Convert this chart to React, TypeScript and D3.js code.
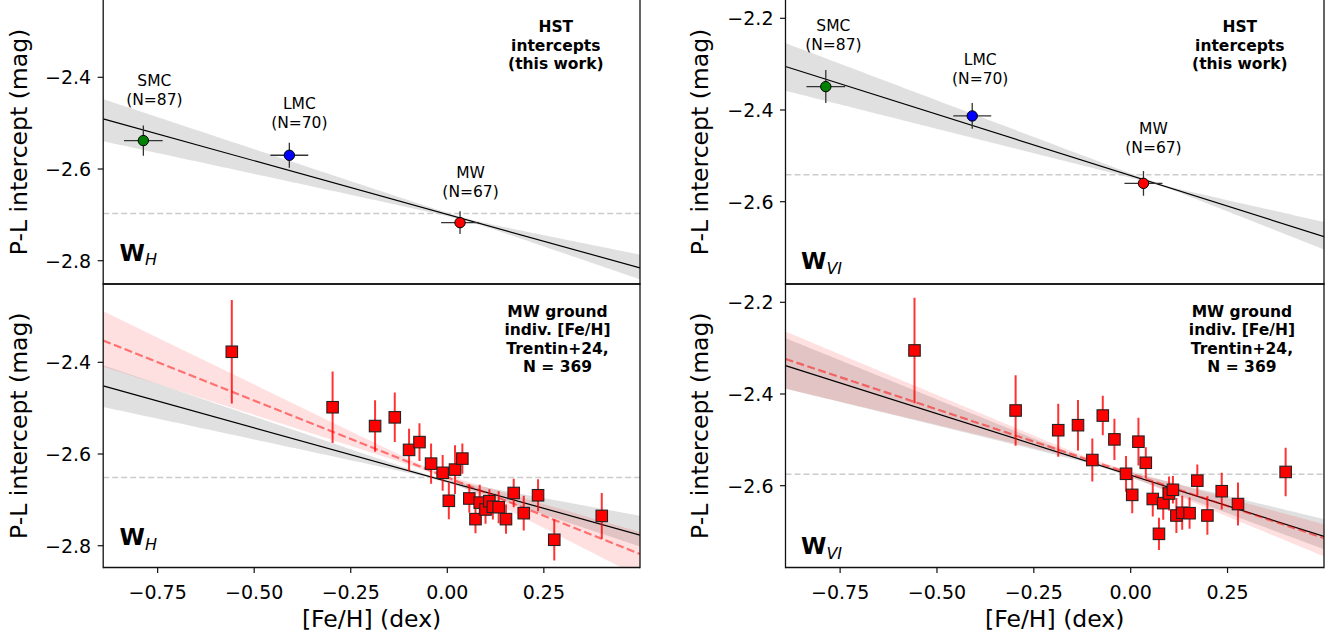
import React from "react";
import * as d3 from "d3";

// ---------- HST intercepts per galaxy ----------
const GALAXIES = ["SMC", "LMC", "MW"];
const GALAXY_N = [87, 70, 67];
const GALAXY_COLORS = ["#008000", "#0000ff", "#ff0000"];
const GALAXY_FEH = [-0.787, -0.409, 0.033];
const GALAXY_FEH_ERR = [0.05, 0.049, 0.049];
const GALAXY_WH = [-2.538, -2.57, -2.717];
const GALAXY_WH_ERR = [0.033, 0.027, 0.025];
const GALAXY_WVI = [-2.349, -2.413, -2.56];
const GALAXY_WVI_ERR = [0.036, 0.028, 0.027];

// ---------- MW ground-based intercepts, binned in individual [Fe/H] ----------
const STAR_FEH = [
  -0.558, -0.297, -0.187, -0.136, -0.099, -0.072, -0.042, -0.012, 0.004, 0.02, 0.039, 0.057,
  0.073, 0.084, 0.099, 0.109, 0.118, 0.133, 0.152, 0.172, 0.198, 0.235, 0.277, 0.4,
];
const STAR_WH = [
  -2.377, -2.498, -2.539, -2.52, -2.591, -2.574, -2.621, -2.641, -2.702, -2.634, -2.61, -2.697,
  -2.742, -2.706, -2.721, -2.703, -2.715, -2.716, -2.742, -2.685, -2.729, -2.69, -2.787, -2.735,
];
const STAR_WH_ERR = [
  0.113, 0.078, 0.056, 0.054, 0.046, 0.041, 0.044, 0.039, 0.04, 0.053, 0.033, 0.031,
  0.031, 0.039, 0.031, 0.026, 0.028, 0.035, 0.032, 0.031, 0.038, 0.035, 0.045, 0.05,
];
const STAR_WVI = [
  -2.305, -2.436, -2.479, -2.468, -2.544, -2.447, -2.499, -2.574, -2.62, -2.504, -2.55, -2.629,
  -2.705, -2.638, -2.617, -2.609, -2.665, -2.659, -2.66, -2.589, -2.665, -2.612, -2.64, -2.57,
];
const STAR_WVI_ERR = [
  0.115, 0.077, 0.058, 0.055, 0.047, 0.043, 0.045, 0.039, 0.04, 0.052, 0.034, 0.038,
  0.035, 0.036, 0.037, 0.03, 0.038, 0.037, 0.034, 0.035, 0.042, 0.04, 0.047, 0.053,
];

// ---------- fitted relations: zero point at [Fe/H]=0 and slope (mag/dex) ----------
const FIT_HST_WH = { zp: -2.699, slope: -0.234 };
const FIT_HST_WVI = { zp: -2.543, slope: -0.267 };
const FIT_GROUND_HST_WH = { zp: -2.66, slope: -0.234 };
const FIT_GROUND_HST_WVI = { zp: -2.577, slope: -0.268 };
const FIT_GROUND_WH = { zp: -2.651, slope: -0.335 };
const FIT_GROUND_WVI = { zp: -2.574, slope: -0.281 };

// confidence bands: narrowest half-width at the pivot, half-widths [above, below] at the axis edges
const BAND_HST_WH = { pivot: 0.05, min: 0.003, left: [0.043, 0.049], right: [0.029, 0.025] };
const BAND_HST_WVI = { pivot: 0.08, min: 0.002, left: [0.051, 0.053], right: [0.032, 0.028] };
const BAND_GROUND_HST_WH = { pivot: -0.03, min: 0.003, left: [0.045, 0.046], right: [0.042, 0.025] };
const BAND_GROUND_WH = { pivot: -0.03, min: 0.004, left: [0.064, 0.057], right: [0.048, 0.05] };
const BAND_GROUND_HST_WVI = { pivot: -0.08, min: 0.003, left: [0.06, 0.05], right: [0.038, 0.028] };
const BAND_GROUND_WVI = { pivot: -0.08, min: 0.004, left: [0.06, 0.065], right: [0.03, 0.04] };

// solar-metallicity reference intercepts
const REF_HST_WH = -2.697;
const REF_HST_WVI = -2.5415;
const REF_GROUND_WH = -2.651;
const REF_GROUND_WVI = -2.575;

const X_TICKS = [-0.75, -0.5, -0.25, 0, 0.25];
const Y_TICKS_H = [-2.4, -2.6, -2.8];
const Y_TICKS_VI = [-2.2, -2.4, -2.6];
const X_LIM = [-0.891, 0.499];

const FONT = "DejaVu Sans, Verdana, sans-serif";
const fmtMinus = (s: string) => s.replace("-", "\u2212");

type Band = { pivot: number; min: number; left: number[]; right: number[] };
type Fit = { zp: number; slope: number };

function halfWidth(x: number, band: Band, side: number) {
  const onLeft = x < band.pivot;
  const edge = onLeft ? X_LIM[0] : X_LIM[1];
  const w = onLeft ? band.left[side] : band.right[side];
  const t = (x - band.pivot) / (edge - band.pivot);
  return Math.sqrt(band.min * band.min + (w * w - band.min * band.min) * t * t);
}

const fitY = (f: Fit, x: number) => f.zp + f.slope * x;
const SAMPLES = d3.range(0, 161).map((i) => X_LIM[0] + (i * (X_LIM[1] - X_LIM[0])) / 160);

type PanelProps = {
  id: string;
  left: number;
  right: number;
  top: number;
  bottom: number;
  ylim: number[];
  yTicks: number[];
  showTopSpine: boolean;
  showXAxis: boolean;
  children: (x: d3.ScaleLinear<number, number>, y: d3.ScaleLinear<number, number>) => React.ReactNode;
  overlay: (x: d3.ScaleLinear<number, number>, y: d3.ScaleLinear<number, number>) => React.ReactNode;
};

function Panel(p: PanelProps) {
  const x = d3.scaleLinear().domain(X_LIM).range([p.left, p.right]);
  const y = d3.scaleLinear().domain(p.ylim).range([p.bottom, p.top]);
  const clipId = `clip-${p.id}`;
  return (
    <g>
      <defs>
        <clipPath id={clipId}>
          <rect x={p.left} y={p.top} width={p.right - p.left} height={p.bottom - p.top} />
        </clipPath>
      </defs>
      <g clipPath={`url(#${clipId})`}>{p.children(x, y)}</g>
      {p.overlay(x, y)}
      {/* spines */}
      <g stroke="#111" strokeWidth={1.3} fill="none">
        <line x1={p.left} x2={p.left} y1={p.top - (p.showTopSpine ? 0.65 : 2)} y2={p.bottom + 0.65} />
        <line x1={p.right} x2={p.right} y1={p.top - (p.showTopSpine ? 0.65 : 2)} y2={p.bottom + 0.65} />
        <line x1={p.left} x2={p.right} y1={p.bottom} y2={p.bottom} />
        {p.showTopSpine && <line x1={p.left} x2={p.right} y1={p.top} y2={p.top} />}
      </g>
      {/* y ticks */}
      {p.yTicks.map((t) => (
        <g key={t}>
          <line x1={p.left - 5.5} x2={p.left} y1={y(t)} y2={y(t)} stroke="#111" strokeWidth={1.2} />
          <text
            x={p.left - 12}
            y={y(t)}
            dy="0.36em"
            textAnchor="end"
            fontSize={19}
            fontFamily={FONT}
            fill="#000"
          >
            {fmtMinus(t.toFixed(1))}
          </text>
        </g>
      ))}
      {p.showXAxis &&
        X_TICKS.map((t) => (
          <g key={t}>
            <line x1={x(t)} x2={x(t)} y1={p.bottom} y2={p.bottom + 5.5} stroke="#111" strokeWidth={1.2} />
            <text x={x(t)} y={598.5} textAnchor="middle" fontSize={19} fontFamily={FONT} fill="#000">
              {fmtMinus(t.toFixed(2))}
            </text>
          </g>
        ))}
    </g>
  );
}

function bandPath(
  x: d3.ScaleLinear<number, number>,
  y: d3.ScaleLinear<number, number>,
  fit: Fit,
  band: Band
) {
  return (
    d3
      .area<number>()
      .x((d) => x(d))
      .y0((d) => y(fitY(fit, d) - halfWidth(d, band, 1)))
      .y1((d) => y(fitY(fit, d) + halfWidth(d, band, 0)))(SAMPLES) || ""
  );
}

function fitLine(x: d3.ScaleLinear<number, number>, y: d3.ScaleLinear<number, number>, fit: Fit) {
  return (
    d3
      .line<number>()
      .x((d) => x(d))
      .y((d) => y(fitY(fit, d)))(X_LIM) || ""
  );
}

function RefLine({ x, y, value }: { x: any; y: any; value: number }) {
  return (
    <line
      x1={x(X_LIM[0])}
      x2={x(X_LIM[1])}
      y1={y(value)}
      y2={y(value)}
      stroke="#cccccc"
      strokeWidth={1.5}
      strokeDasharray="6,3"
    />
  );
}

function GalaxyMarks({
  x,
  y,
  values,
  errors,
  labelOffsets,
}: {
  x: any;
  y: any;
  values: number[];
  errors: number[];
  labelOffsets: number[][];
}) {
  return (
    <g>
      {GALAXIES.map((g, i) => {
        const cx = x(GALAXY_FEH[i]);
        const cy = y(values[i]);
        return (
          <g key={g}>
            <line
              x1={x(GALAXY_FEH[i] - GALAXY_FEH_ERR[i])}
              x2={x(GALAXY_FEH[i] + GALAXY_FEH_ERR[i])}
              y1={cy}
              y2={cy}
              stroke="#333"
              strokeWidth={1.3}
            />
            <line
              x1={cx}
              x2={cx}
              y1={y(values[i] - errors[i])}
              y2={y(values[i] + errors[i])}
              stroke="#333"
              strokeWidth={1.3}
            />
            <circle cx={cx} cy={cy} r={5.2} fill={GALAXY_COLORS[i]} stroke="#000" strokeWidth={1} />
          </g>
        );
      })}
      {GALAXIES.map((g, i) => {
        const lx = x(GALAXY_FEH[i]) + labelOffsets[i][0];
        const ly = y(values[i]) + labelOffsets[i][1];
        return (
          <text key={g} textAnchor="middle" fontSize={15.5} fontFamily={FONT} fill="#000">
            <tspan x={lx} y={ly - 19 + 5.5}>
              {g}
            </tspan>
            <tspan x={lx} y={ly + 5.5}>
              {`(N=${GALAXY_N[i]})`}
            </tspan>
          </text>
        );
      })}
    </g>
  );
}

function StarMarks({ x, y, values, errors }: { x: any; y: any; values: number[]; errors: number[] }) {
  const s = 11.5;
  return (
    <g>
      {STAR_FEH.map((f, i) => (
        <line
          key={`e${i}`}
          x1={x(f)}
          x2={x(f)}
          y1={y(values[i] - errors[i])}
          y2={y(values[i] + errors[i])}
          stroke="#ff0000"
          strokeOpacity={0.8}
          strokeWidth={2}
        />
      ))}
      {STAR_FEH.map((f, i) => (
        <rect
          key={`m${i}`}
          x={x(f) - s / 2}
          y={y(values[i]) - s / 2}
          width={s}
          height={s}
          fill="#ff0000"
          stroke="#222"
          strokeWidth={1.1}
        />
      ))}
    </g>
  );
}

function BoldNote({ x, y0, lines }: { x: number; y0: number; lines: string[] }) {
  return (
    <text textAnchor="middle" fontSize={15.5} fontWeight="bold" fontFamily={FONT} fill="#000">
      {lines.map((l, i) => (
        <tspan key={i} x={x} y={y0 + i * 18.5}>
          {l}
        </tspan>
      ))}
    </text>
  );
}

function BandLabel({ x, y, sub }: { x: number; y: number; sub: string }) {
  return (
    <text x={x} y={y} fontFamily={FONT} fill="#000">
      <tspan fontSize={23} fontWeight="bold">
        W
      </tspan>
      <tspan fontSize={16} fontStyle="italic" dy={4.5}>
        {sub}
      </tspan>
    </text>
  );
}

export default function App() {
  const L = { left: 103.2, right: 640 };
  const R = { left: 785.5, right: 1324 };
  const TOP = { top: 0.5, bottom: 284 };
  const BOT = { top: 284, bottom: 567.5 };
  const hstNote = ["HST", "intercepts", "(this work)"];
  const groundNote = ["MW ground", "indiv. [Fe/H]", "Trentin+24,", "N = 369"];

  return (
    <svg
      width={1336}
      height={638}
      viewBox="0 0 1336 638"
      style={{ position: "absolute", left: 0, top: 0, background: "#fff", display: "block" }}
    >
      <rect x={0} y={0} width={1336} height={638} fill="#fff" />

      {/* top left: HST W_H */}
      <Panel
        id="tl"
        {...L}
        {...TOP}
        ylim={[-2.8508, -2.2325]}
        yTicks={Y_TICKS_H}
        showTopSpine={false}
        showXAxis={false}
        children={(x, y) => (
          <g>
            <path d={bandPath(x, y, FIT_HST_WH, BAND_HST_WH)} fill="#000" fillOpacity={0.12} />
            <RefLine x={x} y={y} value={REF_HST_WH} />
            <path d={fitLine(x, y, FIT_HST_WH)} stroke="#000" strokeWidth={1.2} fill="none" />
            <GalaxyMarks
              x={x}
              y={y}
              values={GALAXY_WH}
              errors={GALAXY_WH_ERR}
              labelOffsets={[
                [11, -40.6],
                [10, -33],
                [10.5, -31],
              ]}
            />
          </g>
        )}
        overlay={() => (
          <g>
            <BoldNote x={555.8} y0={32} lines={hstNote} />
            <BandLabel x={119.6} y={260.7} sub="H" />
          </g>
        )}
      />

      {/* bottom left: ground W_H */}
      <Panel
        id="bl"
        {...L}
        {...BOT}
        ylim={[-2.8475, -2.2292]}
        yTicks={Y_TICKS_H}
        showTopSpine={true}
        showXAxis={true}
        children={(x, y) => (
          <g>
            <path d={bandPath(x, y, FIT_GROUND_HST_WH, BAND_GROUND_HST_WH)} fill="#000" fillOpacity={0.12} />
            <path d={bandPath(x, y, FIT_GROUND_WH, BAND_GROUND_WH)} fill="#ff0000" fillOpacity={0.12} />
            <RefLine x={x} y={y} value={REF_GROUND_WH} />
            <path d={fitLine(x, y, FIT_GROUND_HST_WH)} stroke="#000" strokeWidth={1.2} fill="none" />
            <path
              d={fitLine(x, y, FIT_GROUND_WH)}
              stroke="#ff0000"
              strokeOpacity={0.5}
              strokeWidth={2.2}
              strokeDasharray="8,3.5"
              fill="none"
            />
            <StarMarks x={x} y={y} values={STAR_WH} errors={STAR_WH_ERR} />
          </g>
        )}
        overlay={() => (
          <g>
            <BoldNote x={557.5} y0={316.5} lines={groundNote} />
            <BandLabel x={119.6} y={545} sub="H" />
          </g>
        )}
      />

      {/* top right: HST W_VI */}
      <Panel
        id="tr"
        {...R}
        {...TOP}
        ylim={[-2.7795, -2.1612]}
        yTicks={Y_TICKS_VI}
        showTopSpine={false}
        showXAxis={false}
        children={(x, y) => (
          <g>
            <path d={bandPath(x, y, FIT_HST_WVI, BAND_HST_WVI)} fill="#000" fillOpacity={0.12} />
            <RefLine x={x} y={y} value={REF_HST_WVI} />
            <path d={fitLine(x, y, FIT_HST_WVI)} stroke="#000" strokeWidth={1.2} fill="none" />
            <GalaxyMarks
              x={x}
              y={y}
              values={GALAXY_WVI}
              errors={GALAXY_WVI_ERR}
              labelOffsets={[
                [7.6, -42.6],
                [8, -37],
                [10, -36],
              ]}
            />
          </g>
        )}
        overlay={() => (
          <g>
            <BoldNote x={1239.8} y0={32} lines={hstNote} />
            <BandLabel x={801} y={269} sub="VI" />
          </g>
        )}
      />

      {/* bottom right: ground W_VI */}
      <Panel
        id="br"
        {...R}
        {...BOT}
        ylim={[-2.7784, -2.1601]}
        yTicks={Y_TICKS_VI}
        showTopSpine={true}
        showXAxis={true}
        children={(x, y) => (
          <g>
            <path d={bandPath(x, y, FIT_GROUND_HST_WVI, BAND_GROUND_HST_WVI)} fill="#000" fillOpacity={0.12} />
            <path d={bandPath(x, y, FIT_GROUND_WVI, BAND_GROUND_WVI)} fill="#ff0000" fillOpacity={0.12} />
            <RefLine x={x} y={y} value={REF_GROUND_WVI} />
            <path d={fitLine(x, y, FIT_GROUND_HST_WVI)} stroke="#000" strokeWidth={1.2} fill="none" />
            <path
              d={fitLine(x, y, FIT_GROUND_WVI)}
              stroke="#ff0000"
              strokeOpacity={0.5}
              strokeWidth={2.2}
              strokeDasharray="8,3.5"
              fill="none"
            />
            <StarMarks x={x} y={y} values={STAR_WVI} errors={STAR_WVI_ERR} />
          </g>
        )}
        overlay={() => (
          <g>
            <BoldNote x={1241.9} y0={316.5} lines={groundNote} />
            <BandLabel x={801} y={554} sub="VI" />
          </g>
        )}
      />

      {/* axis titles */}
      {[
        { x: 27, y: 142 },
        { x: 27, y: 425.7 },
        { x: 707.6, y: 142 },
        { x: 707.6, y: 425.7 },
      ].map((p, i) => (
        <text
          key={i}
          transform={`translate(${p.x},${p.y}) rotate(-90)`}
          textAnchor="middle"
          fontSize={23.5}
          fontFamily={FONT}
          fill="#000"
        >
          P-L intercept (mag)
        </text>
      ))}
      <text x={(L.left + L.right) / 2} y={627} textAnchor="middle" fontSize={23.5} fontFamily={FONT} fill="#000">
        [Fe/H] (dex)
      </text>
      <text x={(R.left + R.right) / 2} y={627} textAnchor="middle" fontSize={23.5} fontFamily={FONT} fill="#000">
        [Fe/H] (dex)
      </text>
    </svg>
  );
}
